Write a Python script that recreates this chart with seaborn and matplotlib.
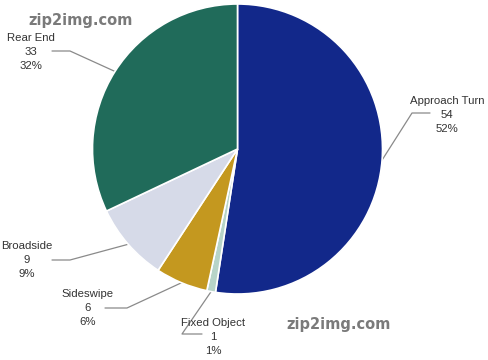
import numpy as np
import matplotlib
matplotlib.use("Agg")
import matplotlib.pyplot as plt
import seaborn as sns

# crash types, clockwise from 12 o'clock
categories = ["Approach Turn", "Fixed Object", "Sideswipe", "Broadside", "Rear End"]
counts = [54, 1, 6, 9, 33]
colors = ["#12288a", "#b7d4c8", "#c4981f", "#d6dae8", "#206b5a"]

sns.set_theme(style="white")
plt.rcParams['font.family'] = ['Liberation Sans', 'DejaVu Sans']

W, H = 488, 360
fig = plt.figure(figsize=(W / 100, H / 100), dpi=100)

# pie centre / radius in pixels
cx, cy, r = 237.5, 149, 145
ax = fig.add_axes([(cx - r) / W, (H - cy - r) / H, 2 * r / W, 2 * r / H])

wedges, _ = ax.pie(counts, colors=colors, startangle=90, counterclock=False,
                   radius=1, wedgeprops=dict(edgecolor="white", linewidth=1.2))
ax.set_xlim(-1, 1)
ax.set_ylim(-1, 1)
ax.set_aspect("equal")
ax.axis("off")


def px(x, y):
    # pixel position -> data coords of the pie axes
    return (x - cx) / r, (cy - y) / r


# label layout: text centre x, middle line y, elbow x, tail end x, line y (pixels)
layout = {
    "Approach Turn": (447, 115, 412, 430, 113),
    "Fixed Object": (213, 337, 182, 202, 334),
    "Sideswipe": (88, 308, 127, 105, 308),
    "Broadside": (27, 260, 70, 52, 260),
    "Rear End": (31, 52, 70, 52, 51),
}

total = sum(counts)
for w, name, val in zip(wedges, categories, counts):
    ang = np.deg2rad((w.theta1 + w.theta2) / 2)
    ex, ey = np.cos(ang), np.sin(ang)
    tx, ty, elx, endx, ly = layout[name]
    p1 = px(elx, ly)
    p2 = px(endx, ly)
    ax.plot([ex, p1[0], p2[0]], [ey, p1[1], p2[1]], color="#8a8a8a",
            lw=0.9, clip_on=False, zorder=0)
    pct = round(val / total * 100)
    t = px(tx, ty)
    ax.text(t[0], t[1], f"{name}\n{val}\n{pct}%", ha="center", va="center",
            multialignment="center", fontsize=8.2, color="#333333",
            linespacing=1.5, clip_on=False)

# watermarks
fig.text(81 / W, 1 - 20 / H, "zip2img.com", ha="center", va="center",
         fontsize=10.5, fontweight="bold", color="#7a7a7a", family="DejaVu Sans")
fig.text(339 / W, 1 - 325 / H, "zip2img.com", ha="center", va="center",
         fontsize=10.5, fontweight="bold", color="#7a7a7a", family="DejaVu Sans")

fig.savefig("out.png", dpi=100)
